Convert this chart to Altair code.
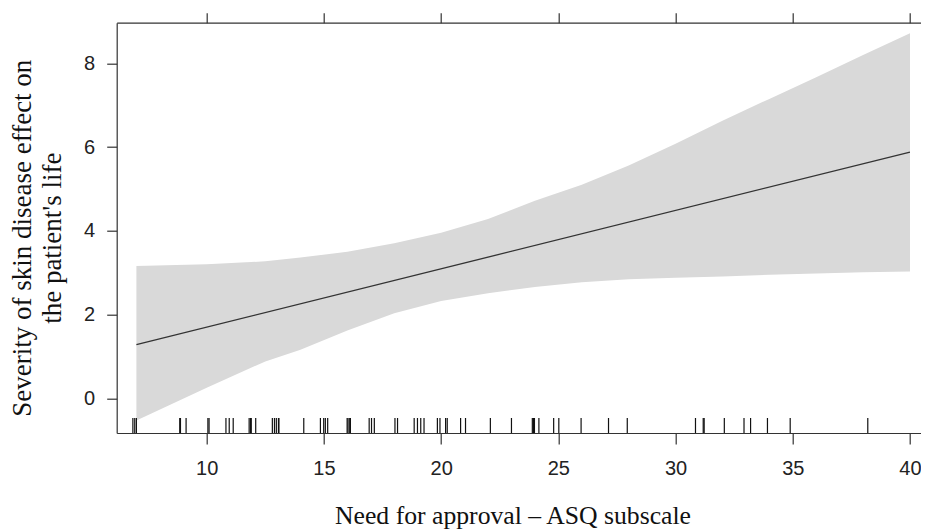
import altair as alt
import pandas as pd

# Confidence band
band_x = [7, 10, 12.5, 14, 16, 18, 20, 22, 24, 26, 28, 30, 32, 34, 36, 38, 40]
band_upper = [3.16, 3.20, 3.27, 3.36, 3.50, 3.70, 3.95, 4.28, 4.72, 5.10, 5.56, 6.08, 6.63, 7.15, 7.67, 8.20, 8.72]
band_lower = [-0.53, 0.25, 0.88, 1.16, 1.62, 2.03, 2.32, 2.51, 2.66, 2.77, 2.84, 2.88, 2.91, 2.95, 2.98, 3.01, 3.03]

# Fitted line
fit_x = [7, 40]
fit_y = [1.28, 5.88]

# Rug values
rug_x = [6.85, 6.93, 7.0, 8.85, 8.88, 9.12, 10.05, 10.1, 10.82, 10.96, 11.13,
         11.81, 11.87, 11.9, 12.09, 12.8, 12.89, 12.97, 13.06, 13.08, 14.14,
         14.85, 14.99, 15.06, 15.16, 15.99, 16.03, 16.1, 16.13, 16.93, 17.03, 17.15,
         18.03, 18.14, 18.85, 18.99, 19.13, 19.27, 19.84, 19.95, 20.19, 20.26,
         20.83, 21.04, 22.1, 23.0, 23.89, 23.94, 23.98, 24.17, 24.8, 25.02, 25.97,
         27.14, 27.94, 30.85, 31.18, 31.22, 32.08, 32.92, 33.2, 33.92, 34.89, 38.2]

x_ticks = [10, 15, 20, 25, 30, 35, 40]
y_ticks = [0, 2, 4, 6, 8]

x_title = "Need for approval \u2013 ASQ subscale"
y_title = ["Severity of skin disease effect on", "the patient's life"]

band_df = pd.DataFrame({"x": band_x, "upper": band_upper, "lower": band_lower})
fit_df = pd.DataFrame({"x": fit_x, "y": fit_y})
rug_df = pd.DataFrame({"x": rug_x})

W = 804.3
H = 410.3
AX = "#333333"
xscale = alt.Scale(domain=[6.16, 40.47], nice=False, zero=False)
yscale = alt.Scale(domain=[-0.83, 8.97], nice=False, zero=False)

band = alt.Chart(band_df).mark_area(color="#d9d9d9", opacity=1).encode(
    x=alt.X("x:Q", scale=xscale, axis=alt.Axis(
        orient="bottom", values=x_ticks, grid=False, tickSize=11, labelPadding=14,
        labelFont="Liberation Sans", labelFontSize=20, labelColor="#222222",
        domainColor=AX, tickColor=AX, domainWidth=1.2, tickWidth=1.2,
        title=x_title, titleFont="Liberation Serif", titleFontSize=25.7,
        titleFontWeight="normal", titleColor="#111111", titleAnchor="middle",
        titleAlign="center", titleBaseline="alphabetic", titleX=395.8, titleY=90,
        labelFlush=False, labelOverlap=False)),
    y=alt.Y("lower:Q", scale=yscale, axis=alt.Axis(
        orient="left", values=y_ticks, grid=False, tickSize=10, labelPadding=12,
        labelFont="Liberation Sans", labelFontSize=20, labelColor="#222222",
        domainColor=AX, tickColor=AX, domainWidth=1.2, tickWidth=1.2,
        title=y_title, titleFont="Liberation Serif", titleFontSize=27,
        titleFontWeight="normal", titleColor="#111111", titleAngle=270,
        titleAlign="center", titleBaseline="top", titleX=-107.5, titleY=215,
        titleLineHeight=30.5, labelFlush=False, labelOverlap=False)),
    y2="upper:Q",
)

line = alt.Chart(fit_df).mark_line(color="#333333", strokeWidth=1.3).encode(
    x=alt.X("x:Q", scale=xscale, axis=alt.Axis(
        orient="top", values=x_ticks, grid=False, labels=False, tickSize=10,
        domainColor=AX, tickColor=AX, domainWidth=1.2, tickWidth=1.2, title=None)),
    y=alt.Y("y:Q", scale=yscale, axis=None),
)

rug = alt.Chart(rug_df).mark_rule(color="#111111", strokeWidth=1.2).encode(
    x=alt.X("x:Q", scale=xscale, axis=None),
    y=alt.value(H - 15),
    y2=alt.value(H),
)

chart = alt.layer(band, line, rug).resolve_axis(x="independent", y="independent").properties(
    width=W, height=H,
    autosize=alt.AutoSizeParams(type="none"),
    padding={"left": 108.7, "top": 14.7, "right": 0, "bottom": 97},
    background="white",
).configure_view(stroke=None)

chart.save("out.html", embed_options={"renderer": "svg", "actions": False})
